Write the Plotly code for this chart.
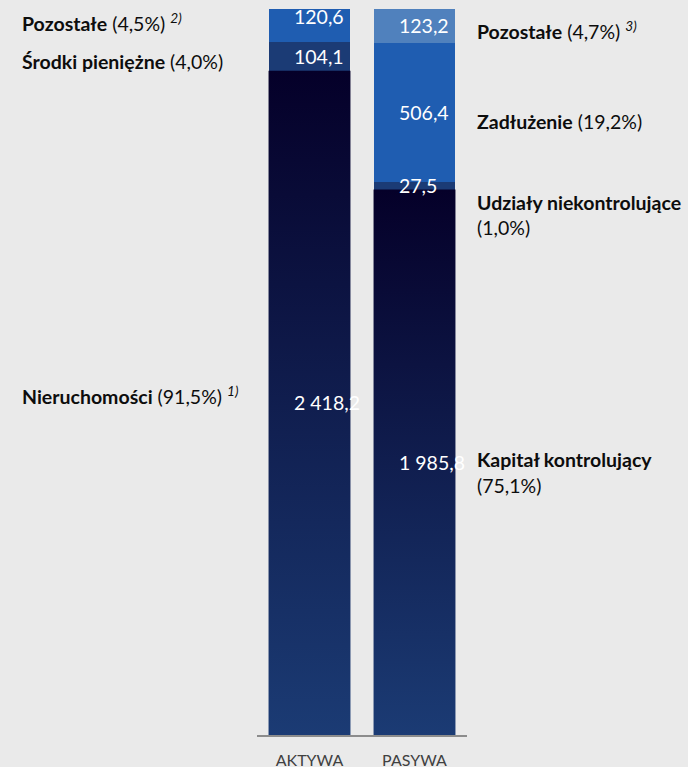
import plotly.graph_objects as go

# --- data -------------------------------------------------------------
categories = ["AKTYWA", "PASYWA"]

# segments listed bottom -> top
aktywa_names = ["Nieruchomości", "Środki pieniężne", "Pozostałe"]
aktywa_values = [2418.2, 104.1, 120.6]
aktywa_shares = ["91,5%", "4,0%", "4,5%"]
aktywa_notes = ["1)", "", "2)"]

pasywa_names = ["Kapitał kontrolujący", "Udziały niekontrolujące", "Zadłużenie", "Pozostałe"]
pasywa_values = [1985.8, 27.5, 506.4, 123.2]
pasywa_shares = ["75,1%", "1,0%", "19,2%", "4,7%"]
pasywa_notes = ["", "", "", "3)"]

# --- styling ----------------------------------------------------------
FONT = "Lato, 'Noto Sans', sans-serif"
BG = "#eaeaea"
TEXT = "#0d0d0d"
GRAD_TOP = "#050029"
GRAD_BOTTOM = "#1b3b74"
aktywa_colors = [None, "#1b3b75", "#1f5db1"]
pasywa_colors = [None, "#1b3b75", "#1f5db1", "#5081bd"]
BAR_W = 0.78
LABEL_SIZE = 19.5

# label offsets (pixels, relative to segment centre)
value_yshift = {("AKTYWA", 2): 9}
left_label_yshift = [7, -5, 3]
right_label_yshift = [(2.5, -23.5), (-16.6, -42), (-9.5,), (-4.5,)]


def fmt(v):
    s = f"{v:,.1f}"
    return s.replace(",", " ").replace(".", ",")


def label_line(name, share, note):
    txt = f"<b>{name}</b> ({share})"
    if note:
        txt += f" <sup><i>{note}</i></sup>"
    return txt


fig = go.Figure()
annotations = []

stacks = [
    (0, aktywa_names, aktywa_values, aktywa_colors),
    (1, pasywa_names, pasywa_values, pasywa_colors),
]

total = max(sum(aktywa_values), sum(pasywa_values))

for xi, names, values, colors in stacks:
    base = 0.0
    for k, (name, val, col) in enumerate(zip(names, values, colors)):
        top = base + val
        if col is None:
            # base segment: vertical gradient, darkest at its top
            x0, x1 = xi - BAR_W / 2, xi + BAR_W / 2
            fig.add_trace(go.Scatter(
                x=[x0, x1, x1, x0, x0], y=[base, base, top, top, base],
                mode="lines", line=dict(width=0), fill="toself",
                fillgradient=dict(type="vertical",
                                  colorscale=[[0, GRAD_BOTTOM], [1, GRAD_TOP]]),
                hoverinfo="skip", showlegend=False,
            ))
        else:
            fig.add_trace(go.Bar(
                x=[xi], y=[val], base=[base], width=BAR_W,
                marker=dict(color=col, line=dict(width=0)),
                hoverinfo="skip", showlegend=False,
            ))
        annotations.append(dict(
            x=xi, y=(base + top) / 2, xref="x", yref="y",
            text=fmt(val), showarrow=False, xanchor="left", yanchor="middle",
            xshift=-18, yshift=value_yshift.get((categories[xi], k), 0),
            font=dict(family=FONT, size=19.5, color="white"),
        ))
        base = top

# category labels on the left (AKTYWA)
base = 0.0
for name, val, share, note, ys in zip(aktywa_names, aktywa_values, aktywa_shares,
                                      aktywa_notes, left_label_yshift):
    annotations.append(dict(
        x=-1.128, y=base + val / 2, xref="paper", yref="y",
        text=label_line(name, share, note),
        showarrow=False, xanchor="left", yanchor="middle", yshift=ys,
        font=dict(family=FONT, size=LABEL_SIZE, color=TEXT),
    ))
    base += val

# category labels on the right (PASYWA)
base = 0.0
for name, val, share, note, ys in zip(pasywa_names, pasywa_values, pasywa_shares,
                                      pasywa_notes, right_label_yshift):
    if len(ys) == 2:
        lines = [f"<b>{name}</b>", f"({share})"]
    else:
        lines = [label_line(name, share, note)]
    for line, shift in zip(lines, ys):
        annotations.append(dict(
            x=1.036, y=base + val / 2, xref="paper", yref="y", text=line,
            showarrow=False, xanchor="left", yanchor="middle", yshift=shift,
            font=dict(family=FONT, size=LABEL_SIZE, color=TEXT),
        ))
    base += val

fig.update_layout(
    width=688, height=767,
    margin=dict(l=257, r=221, t=9, b=32, autoexpand=False),
    paper_bgcolor=BG, plot_bgcolor=BG,
    barmode="overlay", bargap=0,
    showlegend=False,
    annotations=annotations,
    xaxis=dict(
        range=[-0.5, 1.5], tickvals=[0, 1], ticktext=categories,
        showgrid=False, zeroline=False, showline=True,
        linecolor="#8c8c8c", linewidth=2, ticks="",
        ticklabelstandoff=10, automargin=False,
        tickfont=dict(family=FONT, size=16, color="#404040"),
        fixedrange=True,
    ),
    yaxis=dict(
        range=[0, total], visible=False, showgrid=False, zeroline=False,
        fixedrange=True, automargin=False,
    ),
)

fig.write_html("out.html")
